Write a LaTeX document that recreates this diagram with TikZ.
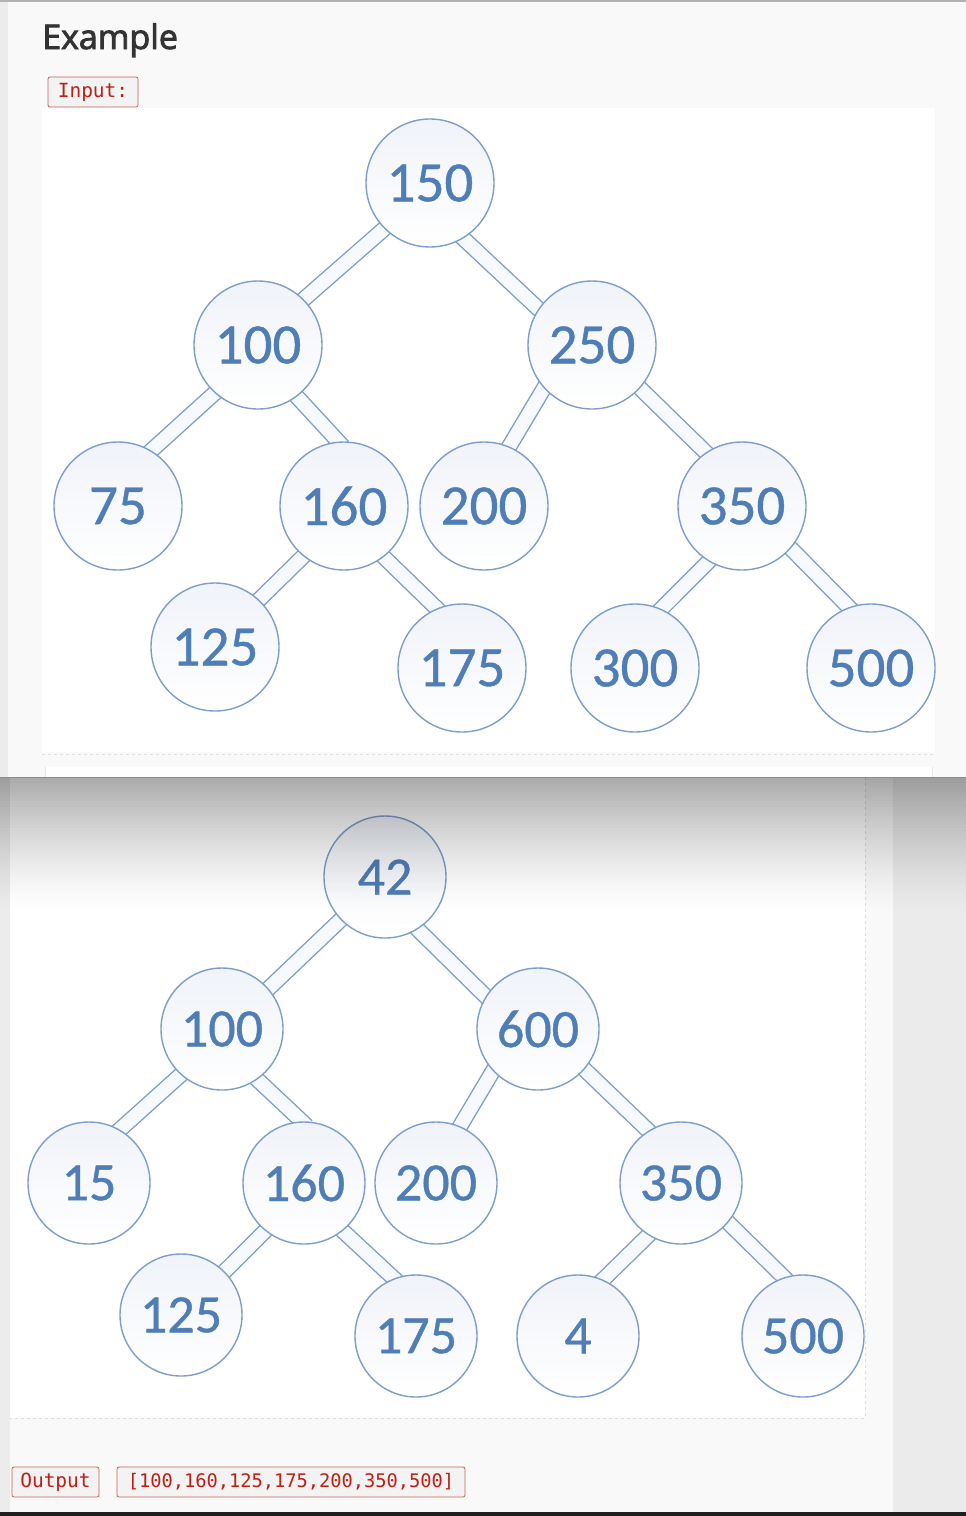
\documentclass[tikz,border=0pt]{standalone}
\usepackage{fontspec}
\setmainfont{Carlito}
\newfontfamily\monofont{DejaVu Sans Mono}
\newfontfamily\titlefont[FakeBold=2.5]{Open Sans}
\newfontfamily\digitfont[FakeBold=0.7]{Carlito}
\definecolor{pagebg}{RGB}{249,249,249}
\definecolor{stripbg}{RGB}{236,236,236}
\definecolor{rightbg}{RGB}{235,235,235}
\definecolor{numblue}{RGB}{79,125,181}
\definecolor{ringblue}{RGB}{125,158,202}
\definecolor{fillblue}{RGB}{240,243,249}
\definecolor{bandfill}{RGB}{246,249,253}
\definecolor{labred}{RGB}{190,30,20}
\definecolor{labborder}{RGB}{205,95,85}
\definecolor{labfill}{RGB}{243,243,243}
\definecolor{titlegray}{RGB}{51,51,51}
\pgfdeclarelayer{bg}
\pgfdeclarelayer{edges}
\pgfsetlayers{bg,edges,main}
\begin{document}
\begin{tikzpicture}[x=1pt,y=-1pt,
  bignode/.style={circle, draw=ringblue, line width=1.4pt, minimum size=128pt, inner sep=0pt,
    top color=fillblue, bottom color=white, text=numblue, font=\digitfont\fontsize{57}{57}\selectfont},
  smallnode/.style={bignode, minimum size=122pt, font=\digitfont\fontsize{54}{54}\selectfont},
  edge/.style={draw=ringblue, line width=1.4pt, double=bandfill, double distance=13.5pt,
    shorten <=-7pt, shorten >=-7pt},
  labelbox/.style={rectangle, rounded corners=2pt, fill=labfill, draw=labborder, line width=0.8pt,
    text=labred, font=\monofont\fontsize{19.5}{19.5}\selectfont, minimum height=30pt, inner sep=0pt}]
\useasboundingbox (0,0) rectangle (966,1516);
% backgrounds
\begin{pgfonlayer}{bg}
\fill[pagebg] (0,0) rectangle (966,1516);
\fill[stripbg] (0,0) rectangle (8,777);
\fill[white] (42,108) rectangle (935,752);
\draw[dashed, black!12, line width=0.8pt] (42,754) -- (935,754);
\fill[white] (45,767) rectangle (932,777);
\draw[black!10, line width=0.8pt] (45,767) -- (45,777) (932,767) -- (932,777);
\fill[black!30] (0,0) rectangle (966,2);
\fill[stripbg] (0,777) rectangle (10,1516);
\fill[rightbg] (893,777) rectangle (966,1516);
\fill[white] (10,777) rectangle (865,1418);
\draw[dashed, black!13, line width=0.8pt] (865,777) -- (865,1418) -- (10,1418);
\end{pgfonlayer}

% title and input label
\node[anchor=base west, inner sep=0pt, text=titlegray, font=\titlefont\fontsize{34}{34}\selectfont] (title) at (42,49) {Example};
\node[labelbox, minimum width=90pt] (inputlab) at (93,92) {Input:};

% top tree
\node[bignode] (n150) at (430,183) {150};
\node[bignode] (n100) at (258,345) {100};
\node[bignode] (n250) at (592,345) {250};
\node[bignode] (n75) at (118,506) {75};
\node[bignode] (n160) at (344,506) {160};
\node[bignode] (n200) at (484,506) {200};
\node[bignode] (n350) at (742,506) {350};
\node[bignode] (n125) at (215,647) {125};
\node[bignode] (n175) at (462,668) {175};
\node[bignode] (n300) at (635,668) {300};
\node[bignode] (n500) at (871,668) {500};
\begin{pgfonlayer}{edges}
\foreach \a/\b/\p/\q in {150/100/-135/45, 150/250/-59/146, 100/75/-132/59, 100/160/-53/95,
    250/200/-138/67, 250/350/-42/124, 160/125/-129/47, 160/175/-52/113,
    350/300/-121/66, 350/500/-41/110}
  \draw[edge] (n\a.\p) -- (n\b.\q);
\end{pgfonlayer}

% bottom tree
\node[smallnode] (m42) at (385,877) {42};
\node[smallnode] (m100) at (222,1029) {100};
\node[smallnode] (m600) at (538,1029) {600};
\node[smallnode] (m15) at (89,1183) {15};
\node[smallnode] (m160) at (304,1183) {160};
\node[smallnode] (m200) at (436,1183) {200};
\node[smallnode] (m350) at (681,1183) {350};
\node[smallnode] (m125) at (181,1315) {125};
\node[smallnode] (m175) at (416,1336) {175};
\node[smallnode] (m4) at (578,1336) {4};
\node[smallnode] (m500) at (803,1336) {500};
\begin{pgfonlayer}{edges}
\foreach \a/\b/\p/\q in {42/100/-136/41, 42/600/-58/148, 100/15/-132/60, 100/160/-55/92,
    600/200/-137/67, 600/350/-41/122, 160/125/-129/45, 160/175/-51/111,
    350/4/-122/66, 350/500/-40/108}
  \draw[edge] (m\a.\p) -- (m\b.\q);
\end{pgfonlayer}

% shadow of the upper screenshot
\foreach \i in {0,...,44}
  \fill[black, opacity={0.33*(1-\i/45)^1.4}] (0,{777+3*\i}) rectangle (966,{780+3*\i});
\fill[black!45] (0,776.5) rectangle (966,778);

% output labels
\node[labelbox, minimum width=87pt] (outlab) at (55.5,1482) {Output};
\node[labelbox, minimum width=348pt, font=\monofont\fontsize{18.7}{18.7}\selectfont] (outval) at (291,1482) {[100,160,125,175,200,350,500]};

\fill[black!88] (0,1512) rectangle (966,1516);
\end{tikzpicture}
\end{document}
